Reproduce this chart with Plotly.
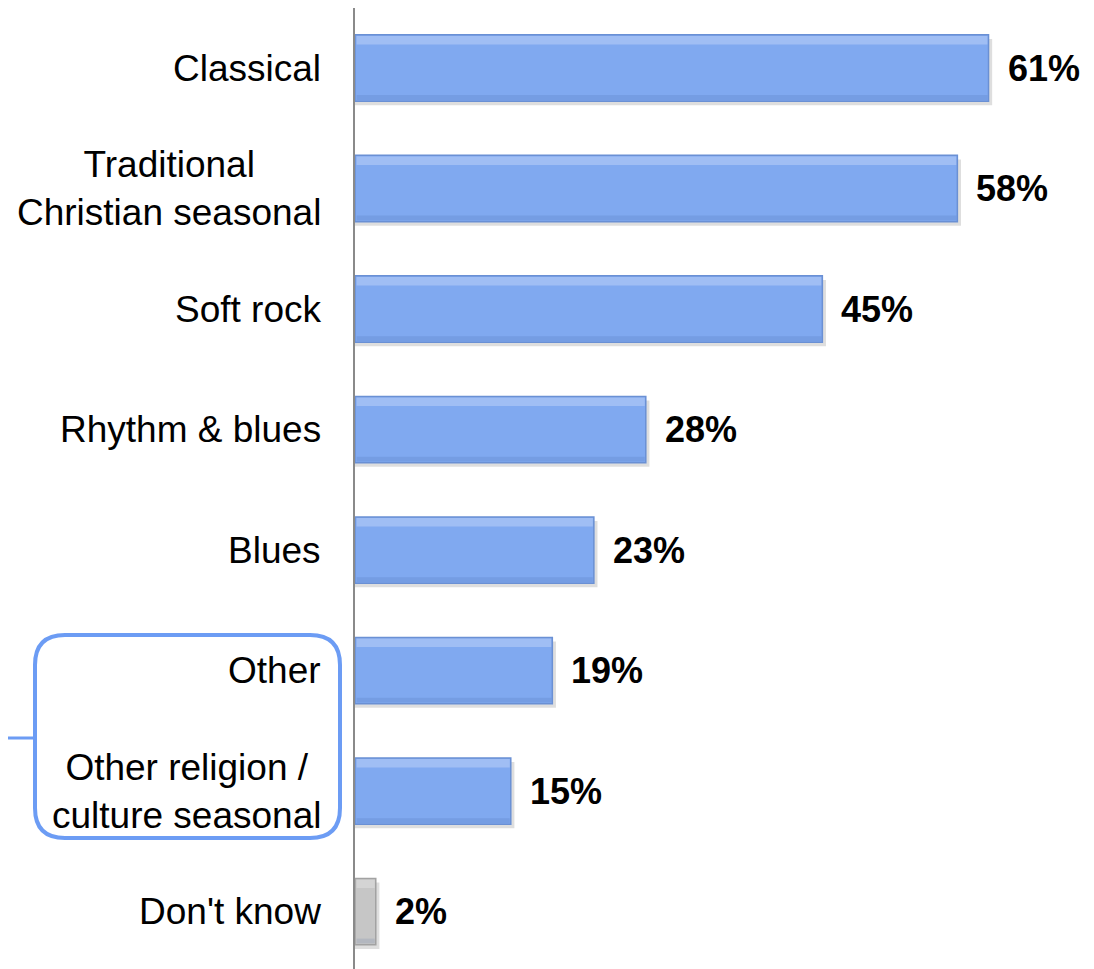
import plotly.graph_objects as go

categories = ["Classical", "Traditional<br>Christian seasonal", "Soft rock", "Rhythm & blues",
              "Blues", "Other", "Other religion /<br>culture seasonal", "Don't know"]
values = [61, 58, 45, 28, 23, 19, 15, 2]
value_labels = ["61%", "58%", "45%", "28%", "23%", "19%", "15%", "2%"]

BLUE = "#80A9F0"
BLUE_LINE = "#6A90D4"
GRAY = "#C6C6C6"
GRAY_LINE = "#A2A2A2"

fills = [GRAY if c == "Don't know" else BLUE for c in categories]
lines = [GRAY_LINE if c == "Don't know" else BLUE_LINE for c in categories]

# page has an 8px body margin; the figure is sized to fit the 1094x969 window
OFF = 8
W, H = 1094 - OFF, 969 - OFF
ML, MR, MT, MB = 355 - OFF, 12, 0, 0
pw, ph = W - ML - MR, H - MT - MB

fig = go.Figure()
# soft shadow
fig.add_trace(go.Bar(
    x=[v + 0.35 for v in values], y=categories, orientation="h",
    width=0.55, offset=-0.275 + 0.035,
    marker=dict(color="rgba(0,0,0,0.13)", line=dict(width=0)),
    hoverinfo="skip", showlegend=False,
))
fig.add_trace(go.Bar(
    x=values, y=categories, orientation="h",
    width=0.55, offset=-0.275,
    marker=dict(color=fills, line=dict(color=lines, width=1.5)),
    showlegend=False,
))
# light bevel highlight along the top edge
fig.add_trace(go.Bar(
    x=[v - 0.25 for v in values], y=categories, orientation="h",
    width=0.07, offset=-0.265,
    marker=dict(color="rgba(255,255,255,0.25)", line=dict(width=0)),
    hoverinfo="skip", showlegend=False, base=0.15,
))
# darker bevel along the bottom edge
fig.add_trace(go.Bar(
    x=[v - 0.25 for v in values], y=categories, orientation="h",
    width=0.04, offset=0.225,
    marker=dict(color="rgba(40,70,140,0.12)", line=dict(width=0)),
    hoverinfo="skip", showlegend=False, base=0.15,
))

annotations = []
for c, v, t in zip(categories, values, value_labels):
    annotations.append(dict(
        x=v, y=c, xref="x", yref="y", text="<b>" + t + "</b>",
        xanchor="left", yanchor="middle", xshift=17, showarrow=False,
        font=dict(family="Liberation Sans, Arial", size=36, color="black"),
    ))
    annotations.append(dict(
        x=0, y=c, xref="paper", yref="y", text=c, align="center",
        xanchor="right", yanchor="middle", xshift=-32, showarrow=False,
        font=dict(family="Liberation Sans, Arial", size=37, color="black"),
    ))

def px_x(p):
    return (p - OFF - ML) / pw

def px_y(p):
    return (H - MB - (p - OFF)) / ph

L, R, T, B = px_x(35), px_x(340), px_y(635), px_y(838)
rx, ry = 30 / pw, 30 / ph
box_path = (
    f"M {L+rx},{T} L {R-rx},{T} Q {R},{T} {R},{T-ry} "
    f"L {R},{B+ry} Q {R},{B} {R-rx},{B} "
    f"L {L+rx},{B} Q {L},{B} {L},{B+ry} "
    f"L {L},{T-ry} Q {L},{T} {L+rx},{T} Z"
)
ym = px_y(738)
shapes = [
    dict(type="path", xref="paper", yref="paper", path=box_path,
         line=dict(color="#6C9CF4", width=4), fillcolor="rgba(0,0,0,0)", layer="above"),
    dict(type="line", xref="paper", yref="paper", x0=px_x(0), x1=L, y0=ym, y1=ym,
         line=dict(color="#6C9CF4", width=3)),
]

fig.update_layout(
    width=W, height=H, autosize=False,
    margin=dict(l=ML, r=MR, t=MT, b=MB),
    paper_bgcolor="white", plot_bgcolor="white",
    barmode="overlay",
    annotations=annotations, shapes=shapes,
    xaxis=dict(range=[0, 70], showgrid=False, zeroline=False, showticklabels=False,
               showline=False, fixedrange=True),
    yaxis=dict(categoryorder="array", categoryarray=categories,
               range=[7.477, -0.498], showgrid=False, zeroline=False,
               showticklabels=False, showline=True, linecolor="#8A8A8A", linewidth=2,
               ticks="", fixedrange=True),
    font=dict(family="Liberation Sans, Arial", color="black"),
)

fig.write_html("out.html")
